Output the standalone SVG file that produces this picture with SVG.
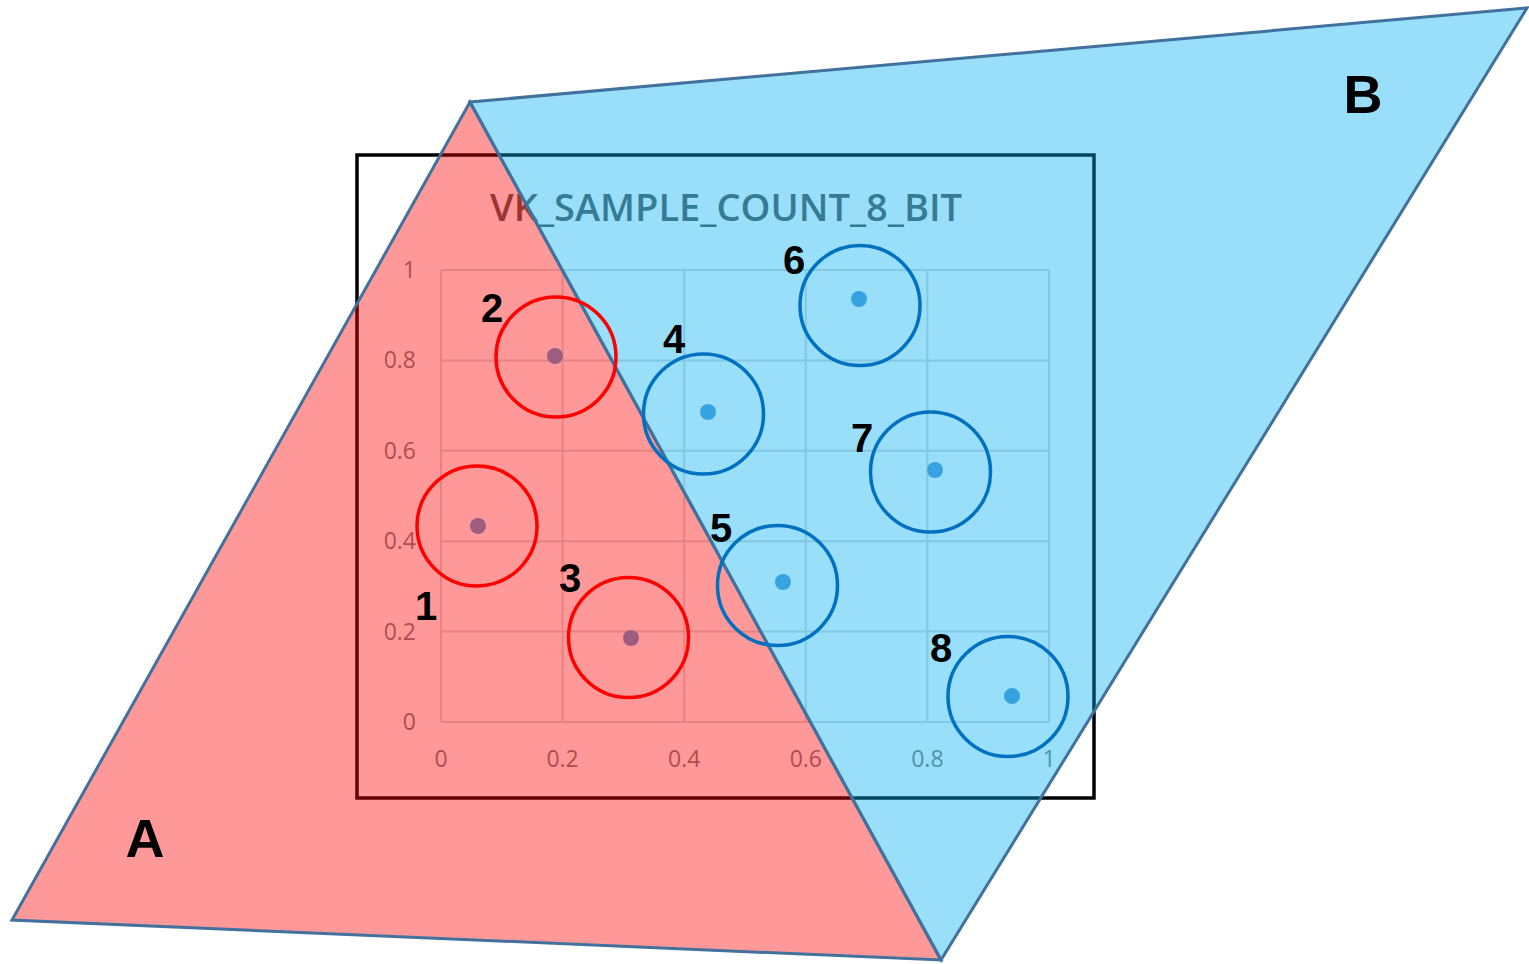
<svg xmlns="http://www.w3.org/2000/svg" width="1529" height="964" viewBox="0 0 1529 964">
<style>
.grid{stroke:#D9D9D9;stroke-width:2;fill:none}
.axl{font-family:"Open Sans","Liberation Sans",sans-serif;font-size:23px;fill:#7F7F7F}
.title{font-family:"Open Sans","Liberation Sans",sans-serif;font-size:38px;font-weight:600;fill:#595959}
.dot{fill:#5B9BD5}
.tri{stroke:#41719C;stroke-width:3;stroke-linejoin:miter}
.rc{fill:none;stroke:#FF0000;stroke-width:3.5}
.bc{fill:none;stroke:#0070C0;stroke-width:3.5}
.num{font-family:"Liberation Sans",Arial,sans-serif;font-weight:bold;font-size:40px;fill:#000;text-anchor:middle}
.big{font-family:"Liberation Sans",Arial,sans-serif;font-weight:bold;font-size:54px;fill:#000;text-anchor:middle}
</style>
<rect width="1529" height="964" fill="#FFFFFF"/>
<g id="chart">
<rect x="357" y="155" width="737" height="643" fill="#FFFFFF" stroke="#000000" stroke-width="3.5"/>
<text class="title" x="490" y="221" textLength="472" lengthAdjust="spacingAndGlyphs">VK_SAMPLE_COUNT_8_BIT</text>
<g class="grid">
<line x1="441" y1="270" x2="1049" y2="270"/>
<line x1="441" y1="360.4" x2="1049" y2="360.4"/>
<line x1="441" y1="450.8" x2="1049" y2="450.8"/>
<line x1="441" y1="541.2" x2="1049" y2="541.2"/>
<line x1="441" y1="631.6" x2="1049" y2="631.6"/>
<line x1="441" y1="722" x2="1049" y2="722"/>
<line x1="441" y1="270" x2="441" y2="722"/>
<line x1="562.6" y1="270" x2="562.6" y2="722"/>
<line x1="684.2" y1="270" x2="684.2" y2="722"/>
<line x1="805.8" y1="270" x2="805.8" y2="722"/>
<line x1="927.4" y1="270" x2="927.4" y2="722"/>
<line x1="1049" y1="270" x2="1049" y2="722"/>
</g>
<g class="axl" text-anchor="end">
<text x="416" y="278">1</text>
<text x="416" y="368">0.8</text>
<text x="416" y="459">0.6</text>
<text x="416" y="549">0.4</text>
<text x="416" y="640">0.2</text>
<text x="416" y="730">0</text>
</g>
<g class="axl" text-anchor="middle">
<text x="441" y="767">0</text>
<text x="562.6" y="767">0.2</text>
<text x="684.2" y="767">0.4</text>
<text x="805.8" y="767">0.6</text>
<text x="927.4" y="767">0.8</text>
<text x="1049" y="767">1</text>
</g>
<g id="dots">
<circle class="dot" cx="478" cy="526" r="8"/>
<circle class="dot" cx="555" cy="356" r="8"/>
<circle class="dot" cx="631" cy="638" r="8"/>
<circle class="dot" cx="708" cy="412" r="8"/>
<circle class="dot" cx="783" cy="582" r="8"/>
<circle class="dot" cx="859" cy="299" r="8"/>
<circle class="dot" cx="935" cy="470" r="8"/>
<circle class="dot" cx="1012" cy="696" r="8"/>
</g>
</g>
<g id="triangle-a">
<polygon class="tri" points="470,102 12,920 941,960" fill="rgba(255,0,0,0.4)"/>
<text class="big" x="145" y="857">A</text>
</g>
<g id="triangle-b">
<polygon class="tri" points="470,102 1527,8 941,960" fill="rgba(0,176,240,0.4)"/>
<text class="big" x="1363" y="113">B</text>
</g>
<g id="samples">
<g id="s1"><circle class="rc" cx="477" cy="526" r="60"/><text class="num" x="426" y="620">1</text></g>
<g id="s2"><circle class="rc" cx="556" cy="357" r="60"/><text class="num" x="492" y="322">2</text></g>
<g id="s3"><circle class="rc" cx="628.5" cy="637.5" r="60"/><text class="num" x="570" y="592">3</text></g>
<g id="s4"><circle class="bc" cx="703.5" cy="414" r="60"/><text class="num" x="674" y="353">4</text></g>
<g id="s5"><circle class="bc" cx="777.5" cy="585.5" r="60"/><text class="num" x="721" y="542">5</text></g>
<g id="s6"><circle class="bc" cx="860" cy="305.5" r="60"/><text class="num" x="794" y="274">6</text></g>
<g id="s7"><circle class="bc" cx="930.5" cy="472" r="60"/><text class="num" x="862" y="452">7</text></g>
<g id="s8"><circle class="bc" cx="1008" cy="696.5" r="60"/><text class="num" x="941" y="662">8</text></g>
</g>
<g id="connectors"/>
</svg>
